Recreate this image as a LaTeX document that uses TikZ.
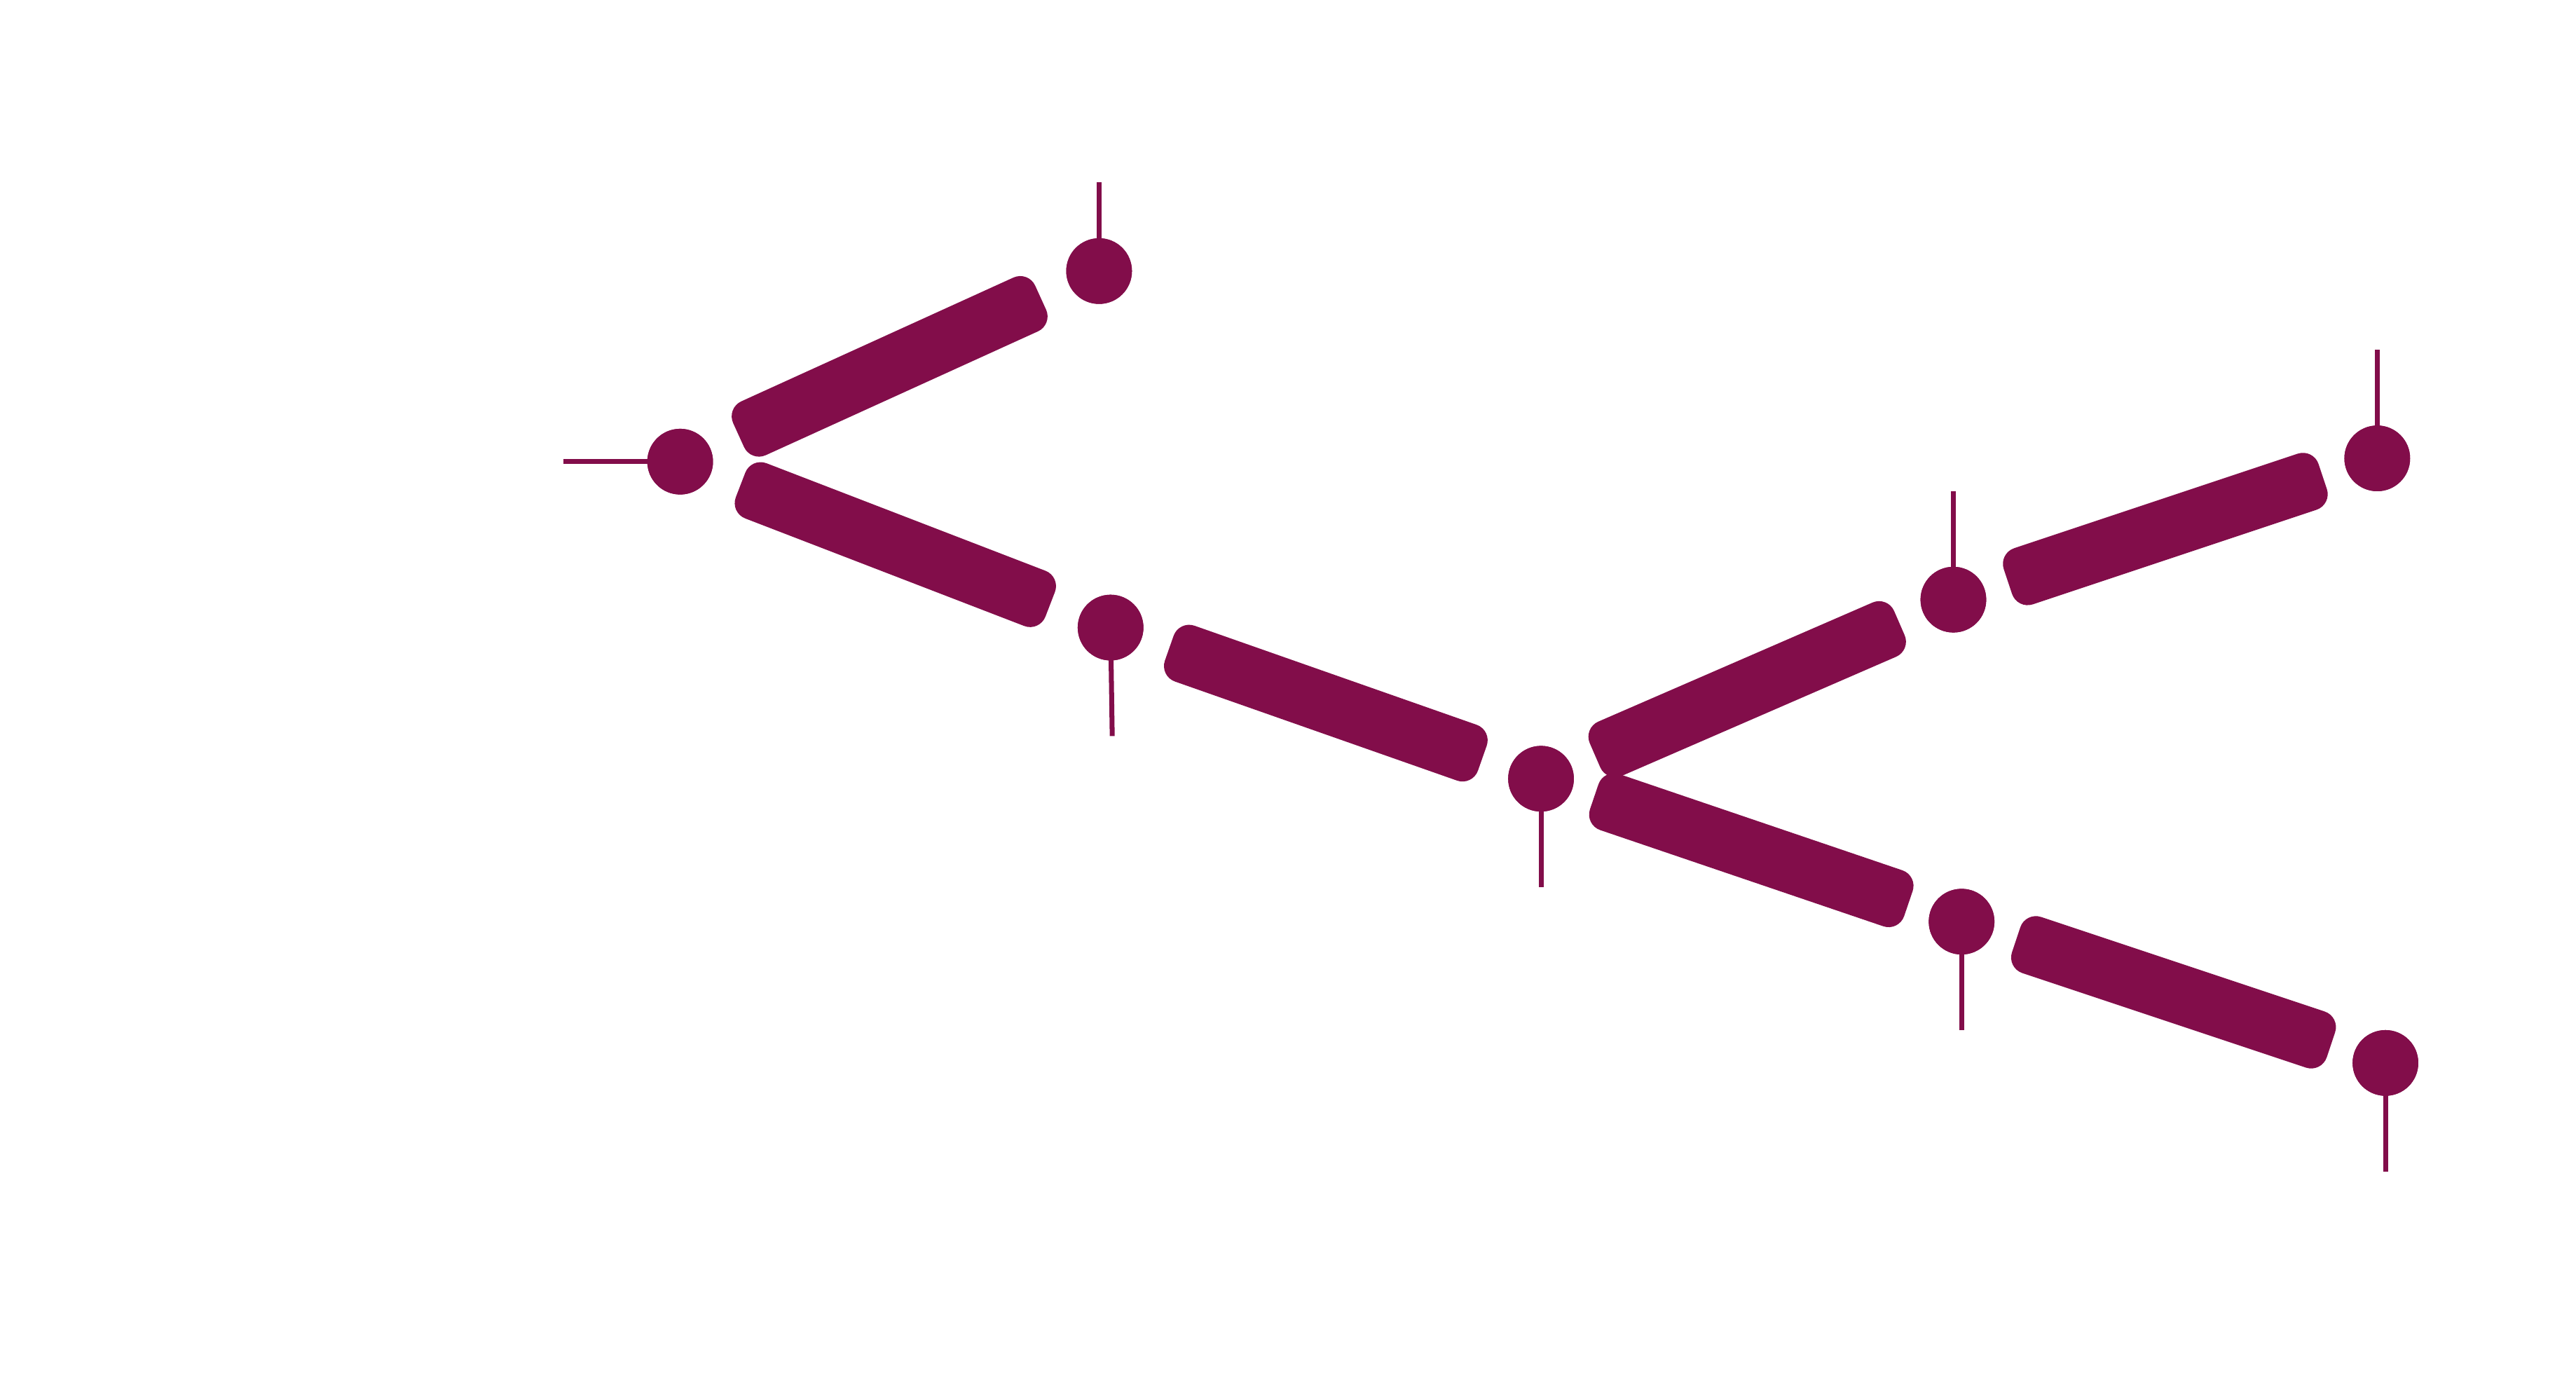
\documentclass[tikz,border=0pt]{standalone}
\usetikzlibrary{calc}
\definecolor{wine}{HTML}{820D4A}
\begin{document}
\begin{tikzpicture}[x=1pt,y=-1pt,
  dot/.style={circle,fill=wine,draw=none,minimum size=40pt,inner sep=0pt},
  lead/.style={draw=wine,line width=3pt},
  bar/.style={rectangle,fill=wine,draw=none,minimum width=202pt,minimum height=36pt,rounded corners=10pt,inner sep=0pt}]
\useasboundingbox (0,0) rectangle (1568,838);
\foreach \n/\x/\y/\ex/\ey in {a/414/281/343/281, b/669/165/669/111, c/676/382/677/448, d/938/474/938/540, e/1189/365/1189/299, f/1447/279/1447/213, g/1194/561/1194/627, h/1452/647/1452/713}{
  \coordinate (\n e) at (\ex,\ey);
  \node[dot] (\n) at (\x,\y) {};
  \draw[lead] (\n.center) -- (\n e);
  \node[dot] at (\n) {};
}
\foreach \s/\t in {a/b,a/c,c/d,d/e,e/f,d/g,g/h}{
  \path let \p1=($(\t)-(\s)$), \n1={atan2(\y1,\x1)} in
    node[bar,rotate=\n1] at ($(\s)!0.5!(\t)$) {};
}
\end{tikzpicture}
\end{document}
